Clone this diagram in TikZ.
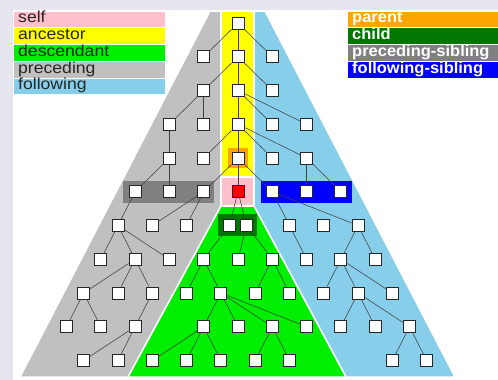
\documentclass[tikz,border=0pt]{standalone}
\usepackage{fontspec}
\newfontfamily\axisfont[FakeStretch=1.1]{Liberation Sans}
\newfontfamily\keyfont[FakeStretch=1.03]{Liberation Sans}
\definecolor{frame}{HTML}{E6E6EF}
\definecolor{selfc}{HTML}{FFC0CB}
\definecolor{anc}{HTML}{FFFF00}
\definecolor{desc}{HTML}{00EE00}
\definecolor{prec}{HTML}{C0C0C0}
\definecolor{foll}{HTML}{87CEEB}
\definecolor{par}{HTML}{FFA500}
\definecolor{chld}{HTML}{007800}
\definecolor{psib}{HTML}{808080}
\definecolor{fsib}{HTML}{0000FF}

\begin{document}
\begin{tikzpicture}[x=1pt,y=-1pt,
  nd/.style={draw=black!85,fill=white,line width=0.9pt,minimum size=12pt,inner sep=0pt},
  edge/.style={black!75,line width=0.55pt},
  zone/.style={draw=white,line width=1.5pt},
  legtxt/.style={font={\axisfont\fontsize{16}{16}\selectfont},text=black!85,inner sep=0pt,anchor=base west},
  keytxt/.style={font={\keyfont\bfseries\fontsize{16}{16}\selectfont},text=white,inner sep=0pt,anchor=base west}]
  \useasboundingbox (0,0) rectangle (498,380);
  \fill[frame] (0,0) rectangle (498,380);
  \fill[white] (13,10) rectangle (498,380);

  % the five big axes: preceding, ancestor, self, descendant, following
  \fill[prec,zone] (210,11) -- (221,11) -- (221,206) -- (128,377) -- (20,377) -- cycle;
  \fill[foll,zone] (265,11) -- (254,11) -- (254,206) -- (346,377) -- (455,377) -- cycle;
  \fill[desc,zone] (221,206) -- (254,206) -- (346,377) -- (128,377) -- cycle;
  \fill[anc,zone] (221,11) rectangle (254,177);
  \fill[selfc,zone] (221,177) rectangle (254,206);

  % keys, left and right
  \foreach \t/\c [count=\i from 0] in {self/selfc,ancestor/anc,descendant/desc,preceding/prec,following/foll}{
    \fill[\c,draw=white,line width=1pt] (13,{11+16.75*\i}) rectangle (165,{27.75+16.75*\i});
    \node[legtxt] (key\i) at (18,{22.8+16.75*\i}) {\t};
  }
  \foreach \t/\c [count=\i from 0] in {parent/par,child/chld,preceding-sibling/psib,following-sibling/fsib}{
    \fill[\c,draw=white,line width=1pt] (347,{11+16.75*\i}) rectangle (498,{27.75+16.75*\i});
    \node[keytxt] (axis\i) at (352,{22.8+16.75*\i}) {\t};
  }

  % small axes round the context node
  \fill[par] (228,148) rectangle (248,168);
  \fill[psib] (123,181) rectangle (214,203);
  \fill[fsib] (261,181) rectangle (352,203);
  \fill[chld] (218,214) rectangle (257,236);

  % the tree: name / column (34.3 each) / row (33.75 each)
  \foreach \nm/\k/\r in {
    r1/0/1,
    a2/-1/2, b2/0/2, c2/1/2,
    a3/-1/3, b3/0/3, c3/1/3,
    a4/-2/4, b4/-1/4, c4/0/4, d4/1/4, e4/2/4,
    a5/-2/5, b5/-1/5, c5/0/5, d5/1/5, e5/2/5,
    a6/-3/6, b6/-2/6, c6/-1/6, d6/1/6, e6/2/6, f6/3/6,
    a7/-3.5/7, b7/-2.5/7, c7/-1.5/7, g7/-0.25/7, h7/0.25/7, d7/1.5/7, e7/2.5/7, f7/3.5/7,
    a8/-4/8, b8/-3/8, c8/-2/8, d8/-1/8, e8/0/8, f8/1/8, g8/2/8, h8/3/8, i8/4/8,
    a9/-4.5/9, b9/-3.5/9, c9/-2.5/9, d9/-1.5/9, e9/-0.5/9, f9/0.5/9, g9/1.5/9, h9/2.5/9, i9/3.5/9, j9/4.5/9,
    a10/-5/10, b10/-4/10, c10/-3/10, d10/-1/10, e10/0/10, f10/1/10, g10/2/10, h10/3/10, i10/4/10, j10/5/10,
    a11/-4.5/11, b11/-3.5/11, c11/-2.5/11, d11/-1.5/11, e11/-0.5/11, f11/0.5/11, g11/1.5/11, h11/4.5/11, i11/5.5/11}
    \node[nd] (\nm) at ({238+34.3*\k},{23+33.75*(\r-1)}) {};
  \node[nd,fill=red] (s6) at (238,191.75) {};

  \foreach \p/\c in {r1/a2, r1/b2, r1/c2, b2/a3, b2/b3, b2/c3,
    a3/a4, a3/b4, b3/c4, b3/d4, b3/e4,
    a4/a5, c4/b5, c4/c5, c4/d5, c4/e5,
    a5/a6, a5/b6, c5/c6, c5/s6, c5/d6, e5/e6, e5/f6,
    a6/a7, c6/b7, c6/c7, s6/g7, s6/h7, d6/d7, d6/f7,
    a7/a8, a7/b8, a7/c8, g7/d8, h7/e8, h7/f8, d7/g8, f7/h8, f7/i8,
    b8/a9, b8/b9, b8/c9, d8/d9, d8/e9, f8/f9, f8/g9, h8/h9, h8/i9, h8/j9,
    a9/a10, a9/b10, c9/c10, e9/d10, e9/e10, e9/f10, e9/g10, i9/h10, i9/i10, i9/j10,
    c10/a11, c10/b11, d10/c11, d10/d11, d10/e11, f10/f11, f10/g11, j10/h11, j10/i11}
    \draw[edge] (\p) -- (\c);
\end{tikzpicture}
\end{document}
